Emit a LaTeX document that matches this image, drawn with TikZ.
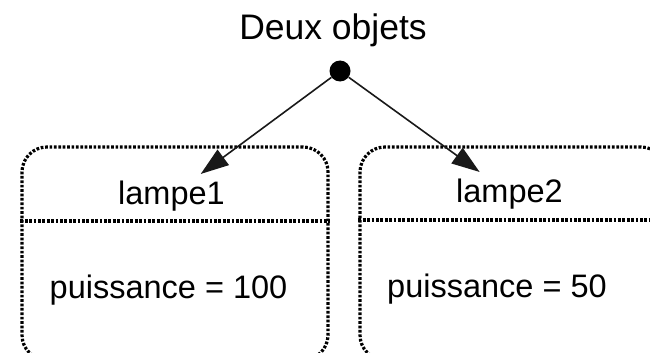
\documentclass[tikz,border=0pt]{standalone}
\usepackage{fontspec}
\setmainfont{Liberation Sans}
\usetikzlibrary{arrows.meta}
\begin{document}
\begin{tikzpicture}[x=1pt,y=-1pt,
                    objet/.style={draw=black,line width=3.2pt,dash pattern=on 2.7pt off 1.7pt,
                                  rounded corners=25pt,minimum width=306pt,minimum height=213pt,inner sep=0pt},
                    texte/.style={font=\fontsize{32.5}{38}\selectfont,anchor=base},
                    lien/.style={line width=1.6pt,draw=black!90,-{Triangle[length=28pt,width=19pt]},shorten >=5pt}]
  \clip (0,0) rectangle (650,353);
  \node[objet] (b1) at (175,253.5) {};
  \node[objet] (b2) at (513,253.5) {};
  \coordinate (sep1) at (0,221);
  \coordinate (sep2) at (0,220);
  \draw[objet] (b1.west |- sep1) -- (b1.east |- sep1);
  \draw[objet] (b2.west |- sep2) -- (b2.east |- sep2);
  \node[texte,font=\fontsize{35.5}{42}\selectfont] (titre) at (333,40) {Deux objets};
  \node[circle,fill=black,inner sep=0pt,minimum size=21pt] (dot) at (340,71) {};
  \node[texte] (l1) at (171.5,204) {lampe1};
  \node[texte] (l2) at (509.5,202) {lampe2};
  \node[texte] (p1) at (168.5,298) {puissance = 100};
  \node[texte] (p2) at (497,297) {puissance = 50};
  \path%
    (dot) edge[lien] (l1)
    (dot) edge[lien] (l2);
\end{tikzpicture}
\end{document}
